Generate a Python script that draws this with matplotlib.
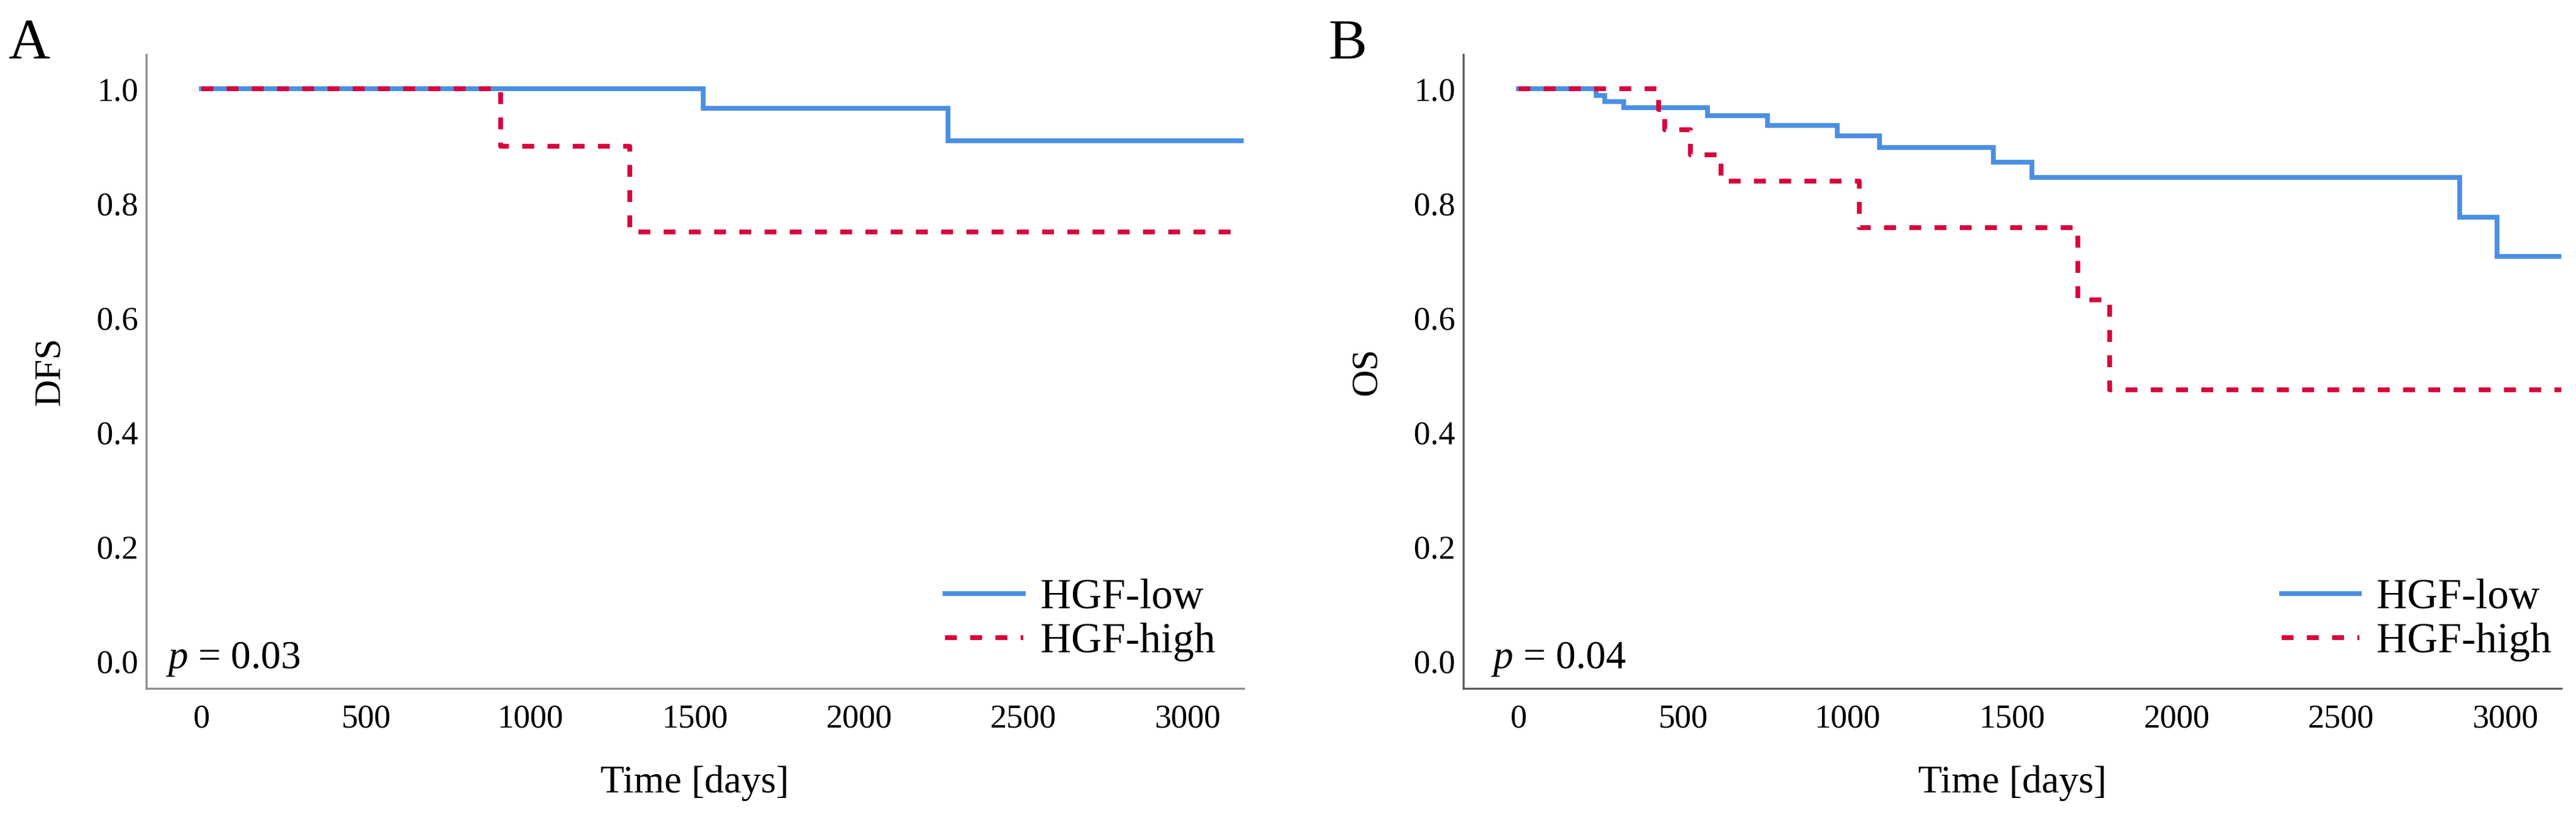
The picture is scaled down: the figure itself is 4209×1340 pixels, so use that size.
import matplotlib
matplotlib.use("Agg")
import matplotlib.pyplot as plt
from matplotlib.ticker import FormatStrFormatter

plt.rcParams['font.family'] = ['Liberation Serif', 'DejaVu Serif']
plt.rcParams['mathtext.fontset'] = 'custom'
plt.rcParams['mathtext.rm'] = 'Liberation Serif'
plt.rcParams['mathtext.it'] = 'Liberation Serif:italic'

# Kaplan-Meier steps (time in days, survival fraction)
dfs_low_t = [0, 1526, 2271]
dfs_low_s = [1.0, 0.966, 0.909]
dfs_high_t = [0, 910, 1303]
dfs_high_s = [1.0, 0.900, 0.750]

os_low_t = [0, 235, 262, 320, 575, 757, 968, 1098, 1443, 1561, 2862, 2974]
os_low_s = [1.0, 0.988, 0.978, 0.967, 0.953, 0.936, 0.918, 0.897, 0.872, 0.845, 0.776, 0.707]
os_high_t = [0, 425, 444, 522, 616, 1036, 1700, 1797]
os_high_s = [1.0, 0.964, 0.928, 0.885, 0.839, 0.757, 0.631, 0.474]

last_follow_up = 3170
labels = ['HGF-low', 'HGF-high']
p_values = ['0.03', '0.04']
ylabels = ['DFS', 'OS']
panel_letters = ['A', 'B']
xticks = [0, 500, 1000, 1500, 2000, 2500, 3000]
yticks = [0.0, 0.2, 0.4, 0.6, 0.8, 1.0]

blue = '#4a8fe3'
red = '#d8043c'

fig = plt.figure(figsize=(42.09, 13.40), dpi=100)
ax_a = fig.add_axes([0.05678, 0.16045, 0.42599, 0.77313])
ax_b = fig.add_axes([0.56807, 0.16045, 0.42623, 0.77313])


def km(ax, t, s, **kw):
    ax.step(list(t) + [last_follow_up], list(s) + [s[-1]], where='post', **kw)


panels = [
    (ax_a, dfs_low_t, dfs_low_s, dfs_high_t, dfs_high_s, 0.728, 0.018, '#8e8e8e'),
    (ax_b, os_low_t, os_low_s, os_high_t, os_high_s, 0.745, 0.025, '#5e5e5e'),
]

for i, (ax, lt, ls, ht, hs, leg_x, p_x, spine_c) in enumerate(panels):
    km(ax, lt, ls, color=blue, lw=5.6, label=labels[0], solid_joinstyle='miter')
    km(ax, ht, hs, color=red, lw=5.6, dashes=(2.5, 2.8), dash_capstyle='butt', label=labels[1])

    ax.set_xlim(-168, last_follow_up)
    ax.set_ylim(-0.048, 1.06)
    ax.set_xticks(xticks)
    ax.set_yticks(yticks)
    ax.yaxis.set_major_formatter(FormatStrFormatter('%.1f'))
    ax.tick_params(axis='x', length=0, pad=18, labelsize=39)
    ax.tick_params(axis='y', length=0, pad=9.5, labelsize=39)

    for side in ('top', 'right'):
        ax.spines[side].set_visible(False)
    for side in ('left', 'bottom'):
        ax.spines[side].set_color(spine_c)
        ax.spines[side].set_linewidth(2.4)

    ax.set_xlabel('Time [days]', fontsize=46, labelpad=36)
    ax.set_ylabel(ylabels[i], fontsize=44, labelpad=35)

    ax.legend(loc='center left', bbox_to_anchor=(leg_x, 0.108), frameon=False,
              fontsize=50, handlelength=1.84, handletextpad=0.4, borderpad=0,
              borderaxespad=0, labelspacing=0.12)

    ax.text(p_x, 0.032, r'$p$ = ' + p_values[i], transform=ax.transAxes,
            fontsize=47, ha='left', va='baseline')

fig.text(13 / 4209, 1 - 95 / 1340, panel_letters[0], fontsize=68, va='baseline')
fig.text(2170 / 4209, 1 - 95 / 1340, panel_letters[1], fontsize=68, va='baseline')

fig.savefig('out.png', dpi=100)
